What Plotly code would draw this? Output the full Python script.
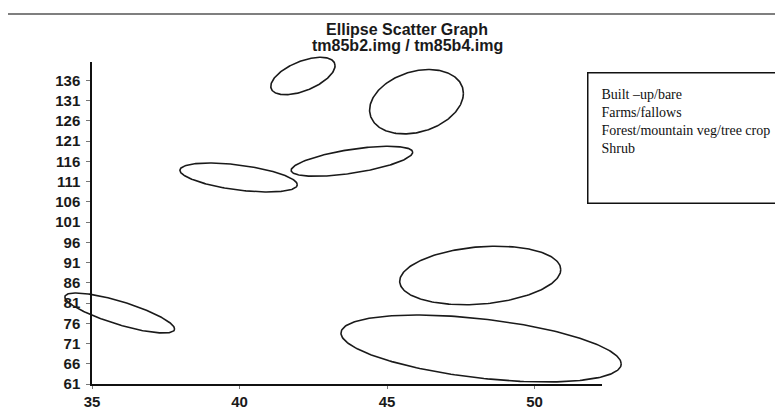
import numpy as np
import plotly.graph_objects as go

W, H = 783, 417

# ellipse parameters (data units)
# centre x, centre y, half-width in x, half-height in y, tilt (correlation)
ell_cx = [42.15, 46.0, 43.81, 39.97, 48.16, 48.19, 35.94]
ell_cy = [137.05, 130.7, 115.99, 111.99, 87.8, 69.77, 78.53]
ell_sx = [1.09, 1.59, 2.06, 1.99, 2.73, 4.75, 1.86]
ell_sy = [4.62, 7.95, 3.70, 3.58, 7.23, 8.27, 4.94]
ell_r = [0.55, 0.26, 0.6, -0.5, 0.2, -0.46, -0.8]

classes = ['Built \u2013up/bare', 'Farms/fallows', 'Forest/mountain veg/tree crop', 'Shrub']

x_ticks = [35, 40, 45, 50]
y_ticks = [61, 66, 71, 76, 81, 86, 91, 96, 101, 106, 111, 116, 121, 126, 131, 136]

title_1 = 'Ellipse Scatter Graph'
title_2 = 'tm85b2.img / tm85b4.img'

# pixel geometry of the axes box
AX_L, AX_R, AX_T, AX_B = 84, 594, 54, 376
PX_X = 29.5   # px per x unit
PX_Y = 4.05   # px per y unit
X0, Y0 = 35, 61

t = np.linspace(0, 2 * np.pi, 240)
fig = go.Figure()
for cx, cy, sx, sy, r in zip(ell_cx, ell_cy, ell_sx, ell_sy, ell_r):
    xs = cx + sx * np.cos(t)
    ys = cy + sy * (r * np.cos(t) + np.sqrt(1 - r * r) * np.sin(t))
    fig.add_trace(go.Scatter(x=xs, y=ys, mode='lines', showlegend=False,
                             line=dict(color='#1a1a1a', width=1.6), hoverinfo='skip'))

# empty trace so the visible axes get drawn
fig.add_trace(go.Scatter(x=[], y=[], xaxis='x2', yaxis='y2', showlegend=False))

tick_font = dict(family='Liberation Sans, Arial', size=15, color='#1a1a1a', weight='bold')

fig.update_layout(
    width=W, height=H, autosize=False,
    margin=dict(l=0, r=0, t=0, b=0),
    paper_bgcolor='white', plot_bgcolor='rgba(0,0,0,0)',
    # hidden full-page axes carrying the ellipses (not clipped to the axes box)
    xaxis=dict(visible=False, domain=[0, 1],
               range=[X0 - AX_L / PX_X, X0 + (W - AX_L) / PX_X]),
    yaxis=dict(visible=False, domain=[0, 1],
               range=[Y0 - (H - AX_B) / PX_Y, Y0 + AX_B / PX_Y]),
    xaxis2=dict(domain=[AX_L / W, AX_R / W], anchor='y2',
                range=[X0, X0 + (AX_R - AX_L) / PX_X],
                tickvals=x_ticks, ticktext=[str(v) for v in x_ticks],
                showline=True, linecolor='#111', linewidth=1.5,
                showgrid=False, zeroline=False,
                ticks='outside', ticklen=3, tickcolor='#777',
                tickfont=tick_font, automargin=False),
    yaxis2=dict(domain=[(H - AX_B) / H, (H - AX_T) / H], anchor='x2',
                range=[Y0, Y0 + (AX_B - AX_T) / PX_Y],
                tickvals=y_ticks, ticktext=[str(v) for v in y_ticks],
                showline=True, linecolor='#111', linewidth=1.5,
                showgrid=False, zeroline=False,
                ticks='outside', ticklen=4, tickcolor='#777',
                ticklabelstandoff=3,
                tickfont=tick_font, automargin=False),
    title=dict(text=title_1, x=399 / W, xanchor='center',
               y=1 - 21 / H, yanchor='middle', yref='container',
               font=dict(family='Liberation Sans, Arial', size=16,
                         color='#1a1a1a', weight='bold')),
    showlegend=False,
    # faint page edges left by the scan
    shapes=[
        dict(type='line', xref='paper', yref='paper', x0=0, x1=1,
             y0=1 - 6 / H, y1=1 - 6 / H, line=dict(color='#555', width=1.5)),
        dict(type='line', xref='paper', yref='paper', x0=183 / W, x1=1,
             y0=1 - 415 / H, y1=1 - 415 / H, line=dict(color='#777', width=1.5)),
    ],
)

fig.add_annotation(text=title_2, xref='paper', yref='paper',
                   x=399 / W, y=1 - 37.5 / H, xanchor='center', yanchor='middle',
                   showarrow=False,
                   font=dict(family='Liberation Sans, Arial', size=16,
                             color='#1a1a1a', weight='bold'))

# legend box (text only, as in the original)
fig.add_annotation(text='<br>'.join(classes), xref='paper', yref='paper',
                   x=579 / W, y=1 - 64 / H, xanchor='left', yanchor='top',
                   showarrow=False, align='left', valign='top',
                   width=230, height=103, borderpad=13,
                   bordercolor='#111', borderwidth=1.5, bgcolor='white',
                   font=dict(family='Liberation Serif, Times New Roman', size=14,
                             color='#111'))

fig.write_html("out.html")
